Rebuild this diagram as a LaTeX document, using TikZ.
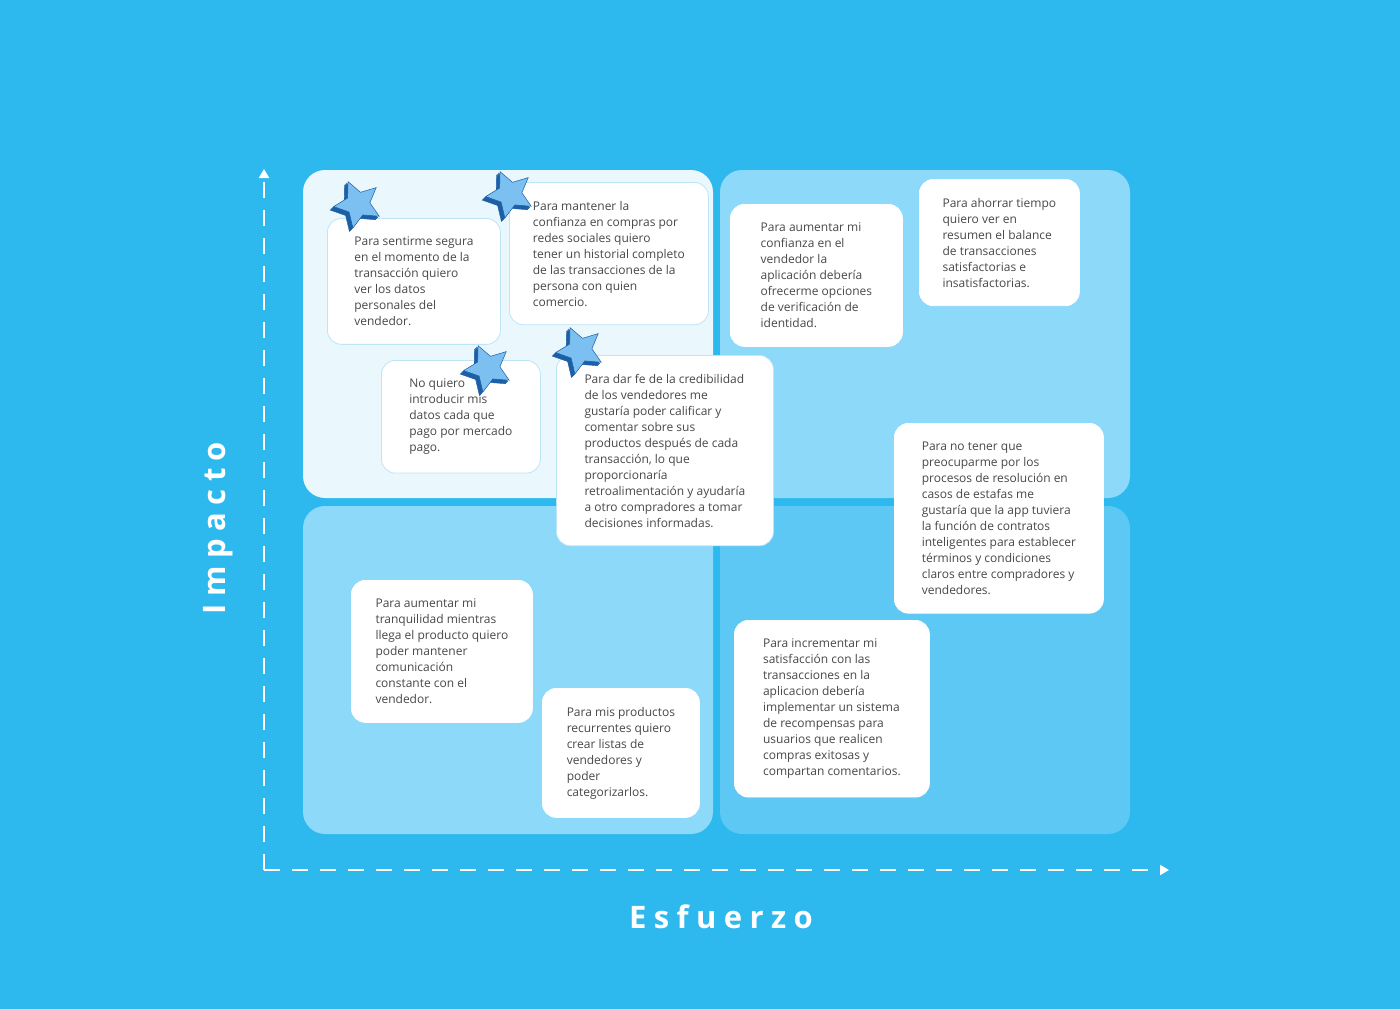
\documentclass[tikz,border=0pt]{standalone}
\usepackage{fontspec}
\setmainfont{Open Sans}
\newfontfamily\axisfont[LetterSpace=24]{Open Sans}
\usetikzlibrary{arrows.meta,positioning,shapes.geometric,calc}
\usepackage{xcolor}
\definecolor{mtxbg}{RGB}{45,184,238}
\definecolor{mtxlight}{RGB}{234,247,253}
\definecolor{mtxmid}{RGB}{140,217,250}
\definecolor{mtxdeep}{RGB}{92,200,243}
\definecolor{mtxline}{RGB}{190,229,247}
\definecolor{mtxtext}{RGB}{72,72,72}
\definecolor{starlight}{RGB}{124,192,242}
\definecolor{stardark}{RGB}{29,95,165}
\tikzset{
    quad/.style={
        fill=#1,rounded corners=22pt
    },
    quad/.default=mtxmid,
    card/.style={
        draw=mtxline,line width=0.8pt,fill=white,rounded corners=14pt,
        anchor=north west,align=left,inner xsep=23pt,inner ysep=18.5pt,
        minimum width=#1,text=mtxtext,font=\fontsize{12}{16}\selectfont
    },
    starbadge/.style={
        star,star points=5,star point ratio=2.05,minimum size=49pt,
        inner sep=0pt,shape border rotate=24,fill=#1,draw=#1
    },
    starbadge/.default=starlight,
    axis/.style={
        draw=white,line width=2pt,dash pattern=on 16pt off 12pt,
        -{Triangle[length=9pt,width=10pt]}
    },
    axislabel/.style={
        text=white,font=\axisfont\bfseries\fontsize{31}{31}\selectfont
    }
}
\newcommand{\badge}[2]{%
    \foreach \d in {3.5,2.5,1.5}
        \node[starbadge=stardark] at ($(#2)+(-\d,\d)$) {};
    \node[starbadge,draw=stardark,line width=0.5pt] (#1) at (#2) {};
}

\begin{document}
\begin{tikzpicture}[x=1pt,y=-1pt]
\useasboundingbox[fill=mtxbg] (0,0) rectangle (1400,1009);

% quadrants
\fill[quad=mtxlight] (303,170) rectangle (713,498);
\fill[quad] (720,170) rectangle (1130,498);
\fill[quad] (303,506) rectangle (713,834);
\fill[quad=mtxdeep] (720,506) rectangle (1130,834);

% axes
\coordinate (top) at (264,169);
\coordinate (origin) at (264,870);
\coordinate (right) at (1169,870);
\draw[axis] (origin) -- (top);
\draw[axis] (origin) -- (right);
\node[axislabel,rotate=90] (impacto) at (218,528) {Impacto};
\node[axislabel] (esfuerzo) at (721,917) {Esfuerzo};

% cards
\node[card=173pt] (seguro) at (327,218)
{Para sentirme segura\\en el momento de la\\transacción quiero\\ver los datos\\personales del\\vendedor.};
\node[card=199pt] (historial) at (509,182)
{Para mantener la\\confianza en compras por\\redes sociales quiero\\tener un historial completo\\de las transacciones de la\\persona con quien\\comercio.};
\node[card=159pt] (datos) at (381,360)
{No quiero\\introducir mis\\datos cada que\\pago por mercado\\pago.};
\node[card=172pt,draw=white] (verif) at (730,204)
{Para aumentar mi\\confianza en el\\vendedor la\\aplicación debería\\ofrecerme opciones\\de verificación de\\identidad.};
\node[card=160pt,draw=white] (balance) at (919,179)
{Para ahorrar tiempo\\quiero ver en\\resumen el balance\\de transacciones\\satisfactorias e\\insatisfactorias.};
\node[card=217pt] (califica) at (556,355)
{Para dar fe de la credibilidad\\de los vendedores me\\gustaría poder calificar y\\comentar sobre sus\\productos después de cada\\transacción, lo que\\proporcionaría\\retroalimentación y ayudaría\\a otro compradores a tomar\\decisiones informadas.};
\node[card=209pt,draw=white] (contratos) at (894,423)
{Para no tener que\\preocuparme por los\\procesos de resolución en\\casos de estafas me\\gustaría que la app tuviera\\la función de contratos\\inteligentes para establecer\\términos y condiciones\\claros entre compradores y\\vendedores.};
\node[card=181pt,draw=white] (comunica) at (351,580)
{Para aumentar mi\\tranquilidad mientras\\llega el producto quiero\\poder mantener\\comunicación\\constante con el\\vendedor.};
\node[card=157pt,draw=white] (listas) at (542,688)
{Para mis productos\\recurrentes quiero\\crear listas de\\vendedores y\\poder\\categorizarlos.};
\node[card=195pt,draw=white] (recompensa) at (734,620)
{Para incrementar mi\\satisfacción con las\\transacciones en la\\aplicacion debería\\implementar un sistema\\de recompensas para\\usuarios que realicen\\compras exitosas y\\compartan comentarios.};

% stars
\badge{s1}{358,204}
\badge{s2}{510,194}
\badge{s3}{488,368}
\badge{s4}{580,350}

\end{tikzpicture}
\end{document}
